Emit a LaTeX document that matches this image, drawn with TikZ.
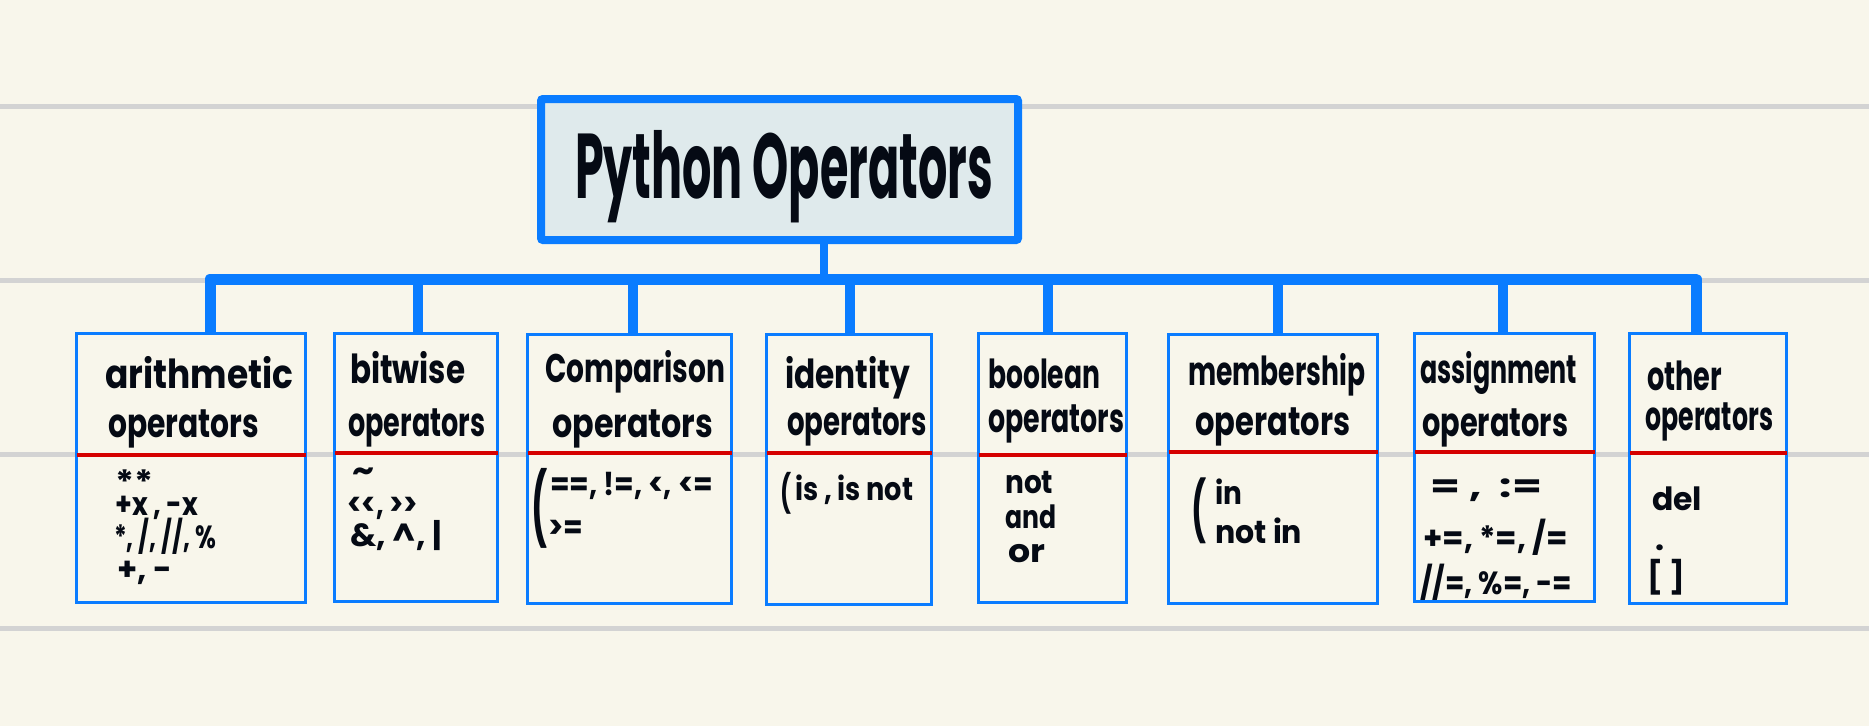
\documentclass[tikz,border=0pt]{standalone}
\usepackage{fontspec}
\setmainfont{Poppins}
\usepackage{graphicx}
\definecolor{bgc}{HTML}{F8F6EB}
\definecolor{rule}{HTML}{D3D3D3}
\definecolor{opblue}{HTML}{0A7CFF}
\definecolor{opred}{HTML}{D50000}
\definecolor{titlefill}{HTML}{DFEAEC}
\definecolor{ink}{HTML}{050A14}
\newcommand{\fw}[2]{\resizebox{#1pt}{\height}{#2}}
\begin{document}
\begin{tikzpicture}[x=1pt,y=-1pt,
  ruleline/.style={rule,line width=5pt},
  opbox/.style={draw=opblue,fill=bgc,line width=3pt,inner sep=0pt,outer sep=0pt},
  titlebox/.style={draw=opblue,fill=titlefill,line width=8pt,inner sep=0pt,outer sep=0pt,rounded corners=2pt,minimum width=477pt,minimum height=141pt},
  conn/.style={opblue,line width=10pt},
  trunk/.style={opblue,line width=8pt},
  divider/.style={opred,line width=4pt},
  hd/.style={anchor=base west,inner sep=0pt,text=ink,font=\fontsize{40}{40}\selectfont\bfseries},
  bd/.style={anchor=base west,inner sep=0pt,text=ink,font=\fontsize{32}{32}\selectfont\bfseries},
  paren/.style={anchor=north west,inner sep=0pt,text=ink,font=\fontsize{32}{32}\selectfont\bfseries},
  ttl/.style={anchor=base,inner sep=0pt,text=ink,font=\fontsize{92}{92}\selectfont\bfseries}
]
\useasboundingbox[fill=bgc] (0,0) rectangle (1869,726);
% notebook rules
\foreach \yy in {106.5,280,454.5,628.5}{\draw[ruleline] (0,\yy) -- (1869,\yy);}

% title
\node[titlebox] (title) at (779.5,169.5) {};
\node[ttl] (titletext) at (784,198) {\fw{418}{Python Operators}};

% boxes
\node[opbox,minimum width=229pt,minimum height=269pt] (b1) at (191,468) {};
\node[opbox,minimum width=163pt,minimum height=268pt] (b2) at (416,467.5) {};
\node[opbox,minimum width=204pt,minimum height=269pt] (b3) at (629.5,469) {};
\node[opbox,minimum width=165pt,minimum height=270pt] (b4) at (849,469.5) {};
\node[opbox,minimum width=148pt,minimum height=269pt] (b5) at (1052.5,468) {};
\node[opbox,minimum width=209pt,minimum height=269pt] (b6) at (1273,469) {};
\node[opbox,minimum width=180pt,minimum height=268pt] (b7) at (1504.5,467.5) {};
\node[opbox,minimum width=157pt,minimum height=270pt] (b8) at (1708,468.5) {};

% connectors
\coordinate (tr) at (824,279);
\coordinate (s1) at (210,279);
\coordinate (s2) at (418,279);
\coordinate (s3) at (633,279);
\coordinate (s4) at (850,279);
\coordinate (s5) at (1048,279);
\coordinate (s6) at (1278,279);
\coordinate (s7) at (1503,279);
\coordinate (s8) at (1696,279);
\draw[trunk] (tr |- title.south) -- (tr);
\draw[conn,line width=11pt,line join=round] (s1 |- b1.north) -- (s1) -- (s8) -- (s8 |- b8.north);
\draw[conn] (s2) -- (s2 |- b2.north);
\draw[conn] (s3) -- (s3 |- b3.north);
\draw[conn] (s4) -- (s4 |- b4.north);
\draw[conn] (s5) -- (s5 |- b5.north);
\draw[conn] (s6) -- (s6 |- b6.north);
\draw[conn] (s7) -- (s7 |- b7.north);
% redraw box tops over connectors
\foreach \b in {b1,b2,b3,b4,b5,b6,b7,b8}{\draw[opblue,line width=3pt] (\b.north west) -- (\b.north east);}

% dividers
\draw[divider] (b1.west |- 0,455) -- (b1.east |- 0,455);
\draw[divider] (b2.west |- 0,453) -- (b2.east |- 0,453);
\draw[divider] (b3.west |- 0,453) -- (b3.east |- 0,453);
\draw[divider] (b4.west |- 0,453) -- (b4.east |- 0,453);
\draw[divider] (b5.west |- 0,455) -- (b5.east |- 0,455);
\draw[divider] (b6.west |- 0,452) -- (b6.east |- 0,452);
\draw[divider] (b7.west |- 0,452) -- (b7.east |- 0,452);
\draw[divider] (b8.west |- 0,453) -- (b8.east |- 0,453);

% headers
\node[hd] (h1a) at (105,388) {\fw{188}{arithmetic}};
\node[hd] (h1b) at (108,437) {\fw{151}{operators}};
\node[hd] (h2a) at (350,383) {\fw{115}{bitwise}};
\node[hd] (h2b) at (348,436) {\fw{137}{operators}};
\node[hd] (h3a) at (545,382) {\fw{180}{Comparison}};
\node[hd] (h3b) at (552,437) {\fw{161}{operators}};
\node[hd] (h4a) at (785,388) {\fw{125}{identity}};
\node[hd] (h4b) at (787,435) {\fw{140}{operators}};
\node[hd] (h5a) at (988,388) {\fw{112}{boolean}};
\node[hd] (h5b) at (988,432) {\fw{136}{operators}};
\node[hd] (h6a) at (1188,385) {\fw{177}{membership}};
\node[hd] (h6b) at (1195,435) {\fw{155}{operators}};
\node[hd] (h7a) at (1420,383) {\fw{157}{assignment}};
\node[hd] (h7b) at (1422,436) {\fw{146}{operators}};
\node[hd] (h8a) at (1647,390) {\fw{75}{other}};
\node[hd] (h8b) at (1645,430) {\fw{128}{operators}};

% bodies
\node[bd] (c1a) at (115,493) {\fw{38}{**}};
\node[bd] (c1b) at (115,515) {\fw{83}{+x , -x}};
\node[bd] (c1c) at (114,548) {\fw{102}{*, /, //, \%}};
\node[bd] (c1d) at (117,580) {\fw{55}{+, -}};

\node[bd] (c2a) at (352,481) {\fw{22}{\textasciitilde}};
\node[bd] (c2b) at (347,515) {\fw{71}{<{}<, >{}>}};
\node[bd] (c2c) at (350,546) {\fw{92}{\&, \textasciicircum, |}};

\node[paren] (p3) at (531,468) {\resizebox*{16pt}{80pt}{(}};
\node[bd] (c3a) at (550,495) {\fw{163}{==, !=, <, <=}};
\node[bd] (c3b) at (548,538) {\fw{35}{>=}};

\node[paren] (p4) at (780,472) {\resizebox*{11pt}{42pt}{(}};
\node[bd] (c4a) at (795,500) {\fw{118}{is , is not}};

\node[bd] (c5a) at (1005,493) {\fw{48}{not}};
\node[bd] (c5b) at (1005,528) {\fw{51}{and}};
\node[bd] (c5c) at (1008,562) {\fw{37}{or}};

\node[paren] (p6) at (1191,478) {\resizebox*{15pt}{66pt}{(}};
\node[bd] (c6a) at (1215,504) {\fw{27}{in}};
\node[bd] (c6b) at (1215,543) {\fw{87}{not in}};

\node[bd] (c7a) at (1430,497) {\fw{112}{= ,\ \ :=}};
\node[bd] (c7b) at (1423,549) {\fw{145}{+=, *=, /=}};
\node[bd] (c7c) at (1420,594) {\fw{152}{//=, \%=, -=}};

\node[bd] (c8a) at (1652,510) {\fw{50}{del}};
\node[bd] (c8b) at (1655,550) {.};
\node[bd] (c8c) at (1647,588) {\fw{38}{[ ]}};
\end{tikzpicture}
\end{document}
